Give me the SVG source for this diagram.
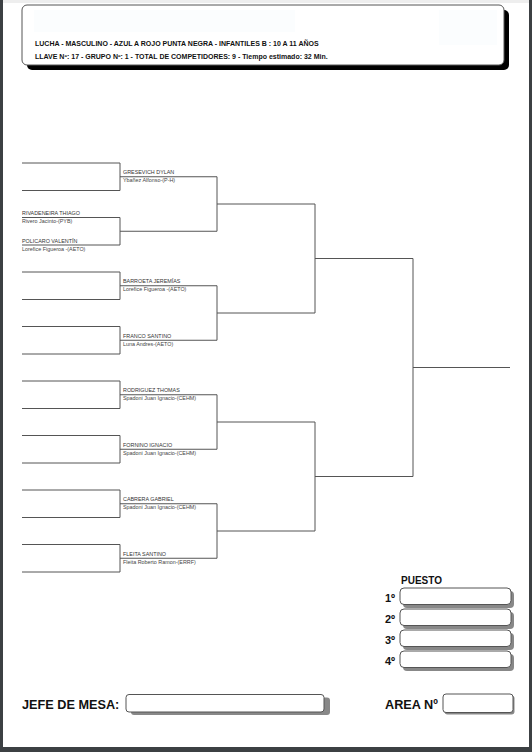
<svg xmlns="http://www.w3.org/2000/svg" width="532" height="752" viewBox="0 0 532 752">
<style>
.ln{fill:none;stroke:#555;stroke-width:1}
.nm{font-family:"Liberation Sans",Arial,sans-serif;font-size:5.4px;fill:#333}
.cl{font-family:"Liberation Sans",Arial,sans-serif;font-size:5.4px;fill:#444}
.hd{font-family:"Liberation Sans",Arial,sans-serif;font-size:7px;font-weight:bold;fill:#111}
.bd{font-family:"Liberation Sans",Arial,sans-serif;font-weight:bold;fill:#111}
.bx{fill:#fff;stroke:#555;stroke-width:1}
.sh{fill:#888}
</style>
<rect x="0" y="0" width="532" height="752" fill="#3c4043"/>
<rect x="3" y="0" width="526" height="747" fill="#fff"/>
<rect x="3" y="0" width="526" height="3" fill="#eeeeee"/>

<g id="header">
<rect x="27" y="10" width="482" height="60" rx="5" fill="#000"/>
<rect x="22" y="5" width="482" height="60" rx="5" fill="#fff" stroke="#555" stroke-width="1"/>
<rect x="34" y="10" width="261" height="22" fill="#fbfdfe"/>
<rect x="439" y="10" width="58" height="35" fill="#fbfdfe"/>
<text class="hd" x="35" y="45.5">LUCHA - MASCULINO - AZUL A ROJO PUNTA NEGRA - INFANTILES B : 10 A 11 AÑOS</text>
<text class="hd" x="35" y="58.5">LLAVE Nº: 17 - GRUPO Nº: 1 - TOTAL DE COMPETIDORES: 9 - Tiempo estimado: 32 Min.</text>
</g>

<g id="connectors">
<path class="ln" d="M22,163 H120 V190.5 H22"/>
<path class="ln" d="M22,217.5 H120 V245 H22"/>
<path class="ln" d="M22,272 H120 V299.5 H22"/>
<path class="ln" d="M22,326.5 H120 V354 H22"/>
<path class="ln" d="M22,381 H120 V408.5 H22"/>
<path class="ln" d="M22,435.5 H120 V463 H22"/>
<path class="ln" d="M22,490 H120 V517.5 H22"/>
<path class="ln" d="M22,544.5 H120 V572 H22"/>
<path class="ln" d="M120,176.75 H217 V231.25 H120 M217,204 H315"/>
<path class="ln" d="M120,285.75 H217 V340.25 H120 M217,313 H315"/>
<path class="ln" d="M120,394.75 H217 V449.25 H120 M217,422 H315"/>
<path class="ln" d="M120,503.75 H217 V558.25 H120 M217,531 H315"/>
<path class="ln" d="M315,204 V313 M315,258.5 H413"/>
<path class="ln" d="M315,422 V531 M315,476.5 H413"/>
<path class="ln" d="M413,258.5 V476.5 M413,367.5 H510"/>
</g>

<g id="rivadeneira">
<text class="nm" x="22" y="215.2">RIVADENEIRA THIAGO</text>
<text class="cl" x="22" y="223">Rivero Jacinto-(PYB)</text>
</g>
<g id="policaro">
<text class="nm" x="22" y="242.7">POLICARO  VALENTÍN</text>
<text class="cl" x="22" y="250.5">Lorefice Figueroa -(AETO)</text>
</g>
<g id="gresevich">
<text class="nm" x="123" y="174.45">GRESEVICH DYLAN</text>
<text class="cl" x="123" y="182.25">Ybañez Alfonso-(P-H)</text>
</g>
<g id="barroeta">
<text class="nm" x="123" y="283.45">BARROETA JEREMÍAS</text>
<text class="cl" x="123" y="291.25">Lorefice Figueroa -(AETO)</text>
</g>
<g id="franco">
<text class="nm" x="123" y="337.95">FRANCO SANTINO</text>
<text class="cl" x="123" y="345.75">Luna Andres-(AETO)</text>
</g>
<g id="rodriguez">
<text class="nm" x="123" y="392.45">RODRIGUEZ THOMAS</text>
<text class="cl" x="123" y="400.25">Spadoni Juan Ignacio-(CEHM)</text>
</g>
<g id="fornino">
<text class="nm" x="123" y="446.95">FORNINO IGNACIO</text>
<text class="cl" x="123" y="454.75">Spadoni Juan Ignacio-(CEHM)</text>
</g>
<g id="cabrera">
<text class="nm" x="123" y="501.45">CABRERA GABRIEL</text>
<text class="cl" x="123" y="509.25">Spadoni Juan Ignacio-(CEHM)</text>
</g>
<g id="fleita">
<text class="nm" x="123" y="555.95">FLEITA  SANTINO</text>
<text class="cl" x="123" y="563.75">Fleita Roberto Ramon-(ERRF)</text>
</g>

<g id="puesto">
<text class="bd" x="401" y="584" font-size="10px">PUESTO</text>
<rect class="sh" x="403" y="591" width="111" height="17" rx="4"/>
<rect class="bx" x="400" y="588" width="111" height="16.5" rx="4"/>
<text class="bd" x="385" y="601.5" font-size="11px">1º</text>
<rect class="sh" x="403" y="612" width="111" height="17" rx="4"/>
<rect class="bx" x="400" y="609" width="111" height="16.5" rx="4"/>
<text class="bd" x="385" y="622.5" font-size="11px">2º</text>
<rect class="sh" x="403" y="633" width="111" height="17" rx="4"/>
<rect class="bx" x="400" y="630" width="111" height="16.5" rx="4"/>
<text class="bd" x="385" y="643.5" font-size="11px">3º</text>
<rect class="sh" x="403" y="654" width="111" height="17" rx="4"/>
<rect class="bx" x="400" y="651" width="111" height="16.5" rx="4"/>
<text class="bd" x="385" y="664.5" font-size="11px">4º</text>
</g>

<g id="jefe">
<text class="bd" x="22" y="709" font-size="12.7px">JEFE DE MESA:</text>
<rect class="sh" x="131" y="697.5" width="199" height="17.5" rx="3"/>
<rect class="bx" x="126" y="694.5" width="198" height="17.5" rx="3"/>
</g>
<g id="area">
<text class="bd" x="385" y="709" font-size="12.7px">AREA Nº</text>
<rect class="sh" x="444.5" y="695.5" width="70" height="19" rx="3"/>
<rect class="bx" x="443" y="694" width="70" height="18.5" rx="3"/>
</g>
</svg>
